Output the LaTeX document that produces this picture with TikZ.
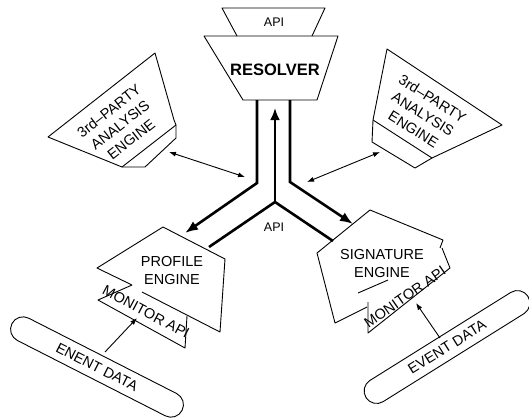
\documentclass[tikz,border=0pt]{standalone}
\usepackage{fontspec}
\setmainfont{Liberation Sans}
\usetikzlibrary{arrows.meta,shapes.misc}
\begin{document}
\begin{tikzpicture}[x=1pt,y=-1pt,
  outline/.style={line width=0.9pt, line join=round},
  thinarrow/.style={line width=0.9pt, -{Latex[length=7pt,width=5pt]}},
  twoway/.style={line width=0.9pt, {Latex[length=7pt,width=5pt]}-{Latex[length=7pt,width=5pt]}},
  pipe/.style={line width=2.6pt},
  pipearrow/.style={line width=2.6pt, -{Latex[length=13pt,width=10pt]}},
  lbl/.style={font=\fontsize{14.5}{18}\selectfont, align=center, inner sep=0pt},
  capsule/.style={draw, line width=0.9pt, rounded rectangle, minimum width=191pt,
    minimum height=25pt, inner sep=0pt, font=\fontsize{14.5}{17}\selectfont}]
\useasboundingbox (0,0) rectangle (529,418);

% resolver with its API on top
\draw[outline] (204,36) -- (338,36) -- (317,100) -- (243,100) -- cycle;
\draw[outline] (237,36) -- (222,8) -- (325,8) -- (312,36);
\node[lbl, font=\fontsize{12.5}{15}\selectfont] (topapi) at (274,22) {API};
\node[lbl, font=\bfseries\fontsize{16.5}{19}\selectfont] (resolver) at (275,70) {RESOLVER};

% left third-party analysis engine
\draw[outline] (48,137) -- (155,53) -- (174,120) -- (176,125) -- (176,138)
  -- (145,167) -- (122,167) -- cycle;
\draw[outline] (122,167) -- (176,125);
\node[lbl, rotate=38] (tpl) at (120,125) {3rd--PARTY\\ANALYSIS\\ENGINE};

% right third-party analysis engine
\draw[outline] (373,120) -- (387,49) -- (502,125) -- (432,158) -- (415,168)
  -- (372,142) -- cycle;
\draw[outline] (373,120) -- (432,158);
\node[lbl, rotate=-32] (tpr) at (423,114) {3rd--PARTY\\ANALYSIS\\ENGINE};

% profile engine with its monitor API
\draw[outline] (132,285) -- (97,268) -- (163,227) -- (225,259) -- (220,332) -- (142,292);
\draw[outline] (187,316) -- (185,348) -- (98,300) -- (132,285);
\node[lbl] (profile) at (172,271) {PROFILE\\ENGINE};
\node[lbl, rotate=-28] (monl) at (146,312) {MONITOR API};

% signature engine with its monitor API
\draw[outline] (367,307) -- (335,323) -- (317,253) -- (370,210) -- (443,240) -- (440,248);
\draw[outline] (358,293) -- (388,280);
\draw[outline] (368,302) -- (368,333) -- (450,268) -- (442,248);
\node[lbl] (signature) at (382,264) {SIGNATURE\\ENGINE};
\node[lbl, rotate=35] (monr) at (405,297) {MONITOR API};

% event data sources
\node[capsule, rotate=-27] (evl) at (97,367) {ENENT DATA};
\node[capsule, rotate=32] (evr) at (447,347) {EVENT DATA};

% junction of the three channels
\coordinate (pl0) at (257,100);
\coordinate (pl1) at (257,183);
\coordinate (pltip) at (185,233);
\coordinate (pr0) at (290,100);
\coordinate (pr1) at (290,182);
\coordinate (prtip) at (353,224);
\coordinate (hub) at (275,202);
\coordinate (hubtop) at (275,108);
\coordinate (ml) at (209,247);
\coordinate (mr) at (333,241);
\draw[pipearrow] (pl0) -- (pl1) -- (pltip);
\draw[pipearrow] (pr0) -- (pr1) -- (prtip);
\draw[pipe, line join=miter] (ml) -- (hub) -- (mr);
\draw[line width=2.6pt, -{Latex[length=12pt,width=10pt]}] (hub) -- (hubtop);
\node[lbl, font=\fontsize{12.5}{15}\selectfont] (midapi) at (274,227) {API};

% links to the third-party engines
\coordinate (tla) at (169,152);
\coordinate (tlb) at (245,177);
\coordinate (tra) at (380,152);
\coordinate (trb) at (307,182);
\draw[twoway] (tla) -- (tlb);
\draw[twoway] (trb) -- (tra);

% event data feeds
\coordinate (fl0) at (105,352);
\coordinate (fl1) at (137,318);
\coordinate (fr0) at (440,338);
\coordinate (fr1) at (416,303);
\draw[thinarrow] (fl0) -- (fl1);
\draw[thinarrow] (fr0) -- (fr1);
\end{tikzpicture}
\end{document}
